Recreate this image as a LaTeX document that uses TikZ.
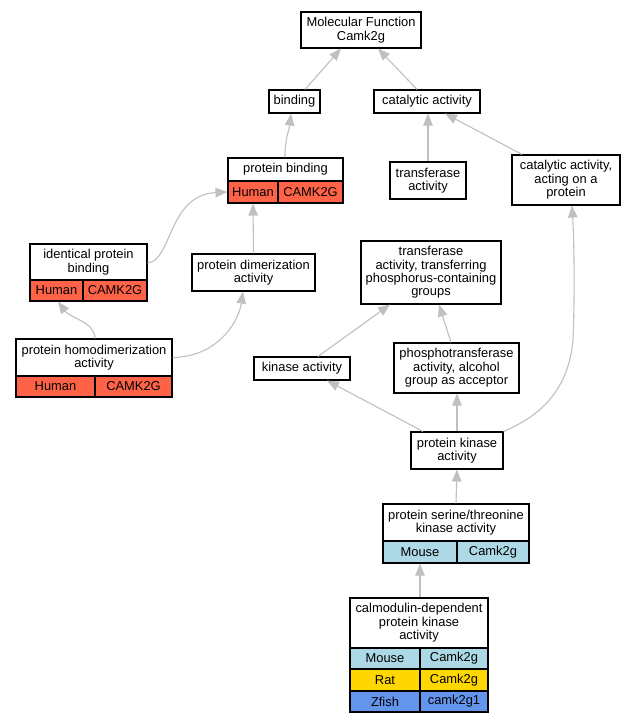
\documentclass[tikz,border=0pt]{standalone}
\usepackage{fontspec}
\setmainfont{Liberation Sans}
\usetikzlibrary{arrows.meta}
\definecolor{edgegray}{RGB}{192,192,192}
\definecolor{tomatoc}{RGB}{255,99,71}
\definecolor{lightbluec}{RGB}{173,216,230}
\definecolor{goldc}{RGB}{255,215,0}
\definecolor{cornflowerc}{RGB}{100,149,237}
\tikzset{
  box/.style={draw=black, line width=1.1pt, fill=white, inner sep=0pt, align=center,
    font=\fontsize{12.9}{13.4}\selectfont, rectangle},
  hum/.style={box, fill=tomatoc},
  mou/.style={box, fill=lightbluec},
  rat/.style={box, fill=goldc},
  zfi/.style={box, fill=cornflowerc},
  edge/.style={draw=edgegray, line width=1.1pt, -{Triangle[length=12pt,width=9.5pt]}},
}
\begin{document}
\begin{tikzpicture}[x=1pt,y=-1pt]
\fill[white] (0,0) rectangle (636,723);
\useasboundingbox (0,0) rectangle (636,723);

\node[box, minimum width=120pt, minimum height=36pt] (mf) at (361,30) {Molecular Function\\Camk2g};
\node[box, minimum width=51pt, minimum height=23pt] (binding) at (294.5,101.5) {binding};
\node[box, minimum width=106pt, minimum height=23pt] (catal) at (427,101.5) {catalytic activity};

\node[box, minimum width=115pt, minimum height=23pt] (pb) at (285.5,169.5) {protein binding};
\node[hum, minimum width=50pt, minimum height=22pt] (pbH) at (253,192) {Human};
\node[hum, minimum width=65pt, minimum height=22pt] (pbC) at (310.5,192) {CAMK2G};

\node[box, minimum width=76pt, minimum height=37pt] (transf) at (428,180.5) {transferase\\activity};
\node[box, minimum width=108pt, minimum height=50pt] (catprot) at (566,180) {catalytic activity,\\acting on a\\protein};

\node[box, minimum width=117pt, minimum height=36pt] (ipb) at (88.5,262) {identical protein\\binding};
\node[hum, minimum width=53pt, minimum height=21pt] (ipbH) at (56.5,290.5) {Human};
\node[hum, minimum width=64pt, minimum height=21pt] (ipbC) at (115,290.5) {CAMK2G};

\node[box, minimum width=123pt, minimum height=37pt] (dimer) at (253.5,272.5) {protein dimerization\\activity};

\node[box, minimum width=156pt, minimum height=37pt] (homo) at (94,357.5) {protein homodimerization\\activity};
\node[hum, minimum width=79pt, minimum height=21pt] (homoH) at (55.5,386.5) {Human};
\node[hum, minimum width=77pt, minimum height=21pt] (homoC) at (133.5,386.5) {CAMK2G};

\node[box, minimum width=96pt, minimum height=23pt] (kinase) at (302,368.5) {kinase activity};
\node[box, minimum width=140pt, minimum height=63pt] (transfP) at (431,272.5) {transferase\\activity, transferring\\phosphorus-containing\\groups};
\node[box, minimum width=125pt, minimum height=50pt] (phospho) at (456.5,368) {phosphotransferase\\activity, alcohol\\group as acceptor};
\node[box, minimum width=92pt, minimum height=37pt] (pka) at (457,450.5) {protein kinase\\activity};

\node[box, minimum width=146pt, minimum height=37pt] (st) at (456,522.5) {protein serine/threonine\\kinase activity};
\node[mou, minimum width=74pt, minimum height=22pt] (stM) at (420,552) {Mouse};
\node[mou, minimum width=72pt, minimum height=22pt] (stC) at (493,552) {Camk2g};

\node[box, minimum width=138pt, minimum height=50pt] (cd) at (419,623) {calmodulin-dependent\\protein kinase\\activity};
\node[mou, minimum width=70pt, minimum height=21pt] (cdM) at (385,658.5) {Mouse};
\node[mou, minimum width=68pt, minimum height=21pt] (cdMC) at (454,658.5) {Camk2g};
\node[rat, minimum width=70pt, minimum height=22pt] (cdR) at (385,680) {Rat};
\node[rat, minimum width=68pt, minimum height=22pt] (cdRC) at (454,680) {Camk2g};
\node[zfi, minimum width=70pt, minimum height=21pt] (cdZ) at (385,701.5) {Zfish};
\node[zfi, minimum width=68pt, minimum height=21pt] (cdZC) at (454,701.5) {camk2g1};

% edges
\draw[edge] ([xshift=10.5pt]binding.north) -- ([xshift=-20pt]mf.south);
\draw[edge] ([xshift=-10pt]catal.north) -- ([xshift=17pt]mf.south);
\draw[edge] ([xshift=-0.5pt]pb.north) .. controls +(0,-20) and +(-2,18) .. ([xshift=-3.5pt]binding.south);
\draw[edge] (transf.north) -- ([xshift=1pt]catal.south);
\draw[edge] ([xshift=-44pt]catprot.north) -- ([xshift=18pt]catal.south);
\draw[edge] ([yshift=-1pt]ipb.east) .. controls (172,261) and (168,195) .. (pbH.west);
\draw[edge] (dimer.north) -- (pbH.south);
\draw[edge] ([xshift=1pt]homo.north) .. controls (95,322) and (70,318) .. ([xshift=1.5pt]ipbH.south);
\draw[edge] (homo.east) .. controls (215,357) and (238,325) .. ([xshift=-10.5pt]dimer.south);
\draw[edge] ([xshift=16pt]kinase.north) -- ([xshift=-41pt]transfP.south);
\draw[edge] ([xshift=-5.5pt]phospho.north) -- ([xshift=8pt]transfP.south);
\draw[edge] ([xshift=-34pt]pka.north) -- ([xshift=25pt]kinase.south);
\draw[edge] (pka.north) -- ([xshift=0.5pt]phospho.south);
\draw[edge] (pka.north east) .. controls (535,418) and (568,395) .. (573,340) .. controls (575,290) and (574,240) .. ([xshift=6pt]catprot.south);
\draw[edge] (st.north) -- (pka.south);
\draw[edge] ([xshift=1pt]cd.north) -- (stM.south);
\end{tikzpicture}
\end{document}
